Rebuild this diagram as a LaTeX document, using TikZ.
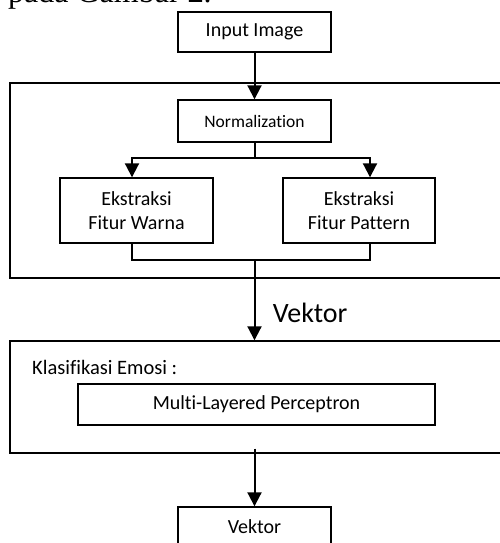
\documentclass[tikz,border=0pt]{standalone}
\usepackage{fontspec}
\setmainfont{Carlito}[Ligatures={NoCommon}]
\newfontfamily\bodyserif{Liberation Serif}
\usetikzlibrary{arrows.meta,positioning,calc}
\definecolor{ink}{HTML}{000000}

\tikzset{
  box/.style={draw=ink,line width=1.4pt,minimum width=153pt,minimum height=40pt,
              inner sep=2pt,align=center,font=\fontsize{20}{24}\selectfont},
  panel/.style={draw=ink,line width=1.4pt,minimum width=520pt,inner sep=0pt},
  link/.style={draw=ink,line width=2pt},
  flow/.style={link,-{Triangle[length=14pt,width=14pt]}}
}

\begin{document}
\begin{tikzpicture}[x=1pt,y=-1pt]
 \clip (0,0) rectangle (500,543);
 % leftover caption line of the page
 \node[anchor=base west,inner sep=0pt,font=\bodyserif\fontsize{32}{36}\selectfont]
   (caption) at (8,3) {pada Gambar \textbf{2}.};

 \node[box] (input) at (254.5,32) {Input Image};

 % feature extraction block
 \node[panel,minimum height=195pt] (fitur) at (270,180.5) {};
 \node[box,minimum height=42pt,font=\fontsize{17.5}{20}\selectfont] (norm) at (254.5,121) {Normalization};
 \node[box,minimum height=65pt] (warna) at (136.5,210.5) {Ekstraksi\\Fitur Warna};
 \node[box,minimum width=152pt,minimum height=65pt] (pattern) at (359,210.5) {Ekstraksi\\Fitur Pattern};
 \coordinate (split) at (254.5,158);
 \coordinate (join) at (254.5,260);

 % classification block
 \node[panel,minimum height=112pt] (klas) at (270,397) {};
 \node[anchor=base west,inner sep=0pt,font=\fontsize{20.5}{24}\selectfont]
   (klastitle) at (32,374) {Klasifikasi Emosi :};
 \node[box,minimum width=357pt,minimum height=41pt] (mlp) at (256.5,404.5) {Multi-Layered Perceptron};

 \node[box] (vektor) at (254.5,527) {Vektor};

 \draw[flow] (input) -- (norm);
 \draw[link] (norm) -- (split);
 \draw[flow] (split) -| ([xshift=-4.5pt]warna.north);
 \draw[flow] (split) -| ([xshift=11pt]pattern.north);
 \draw[link] ([xshift=-4.5pt]warna.south) |- (join) -| ([xshift=11pt]pattern.south);
 \draw[flow] (join) -- (join |- klas.north)
   node[pos=0.66,anchor=west,xshift=14pt,font=\fontsize{28}{32}\selectfont] (veklabel) {Vektor};
 \draw[flow] ([yshift=5pt]klas.south -| join) -- (vektor);
\end{tikzpicture}
\end{document}
